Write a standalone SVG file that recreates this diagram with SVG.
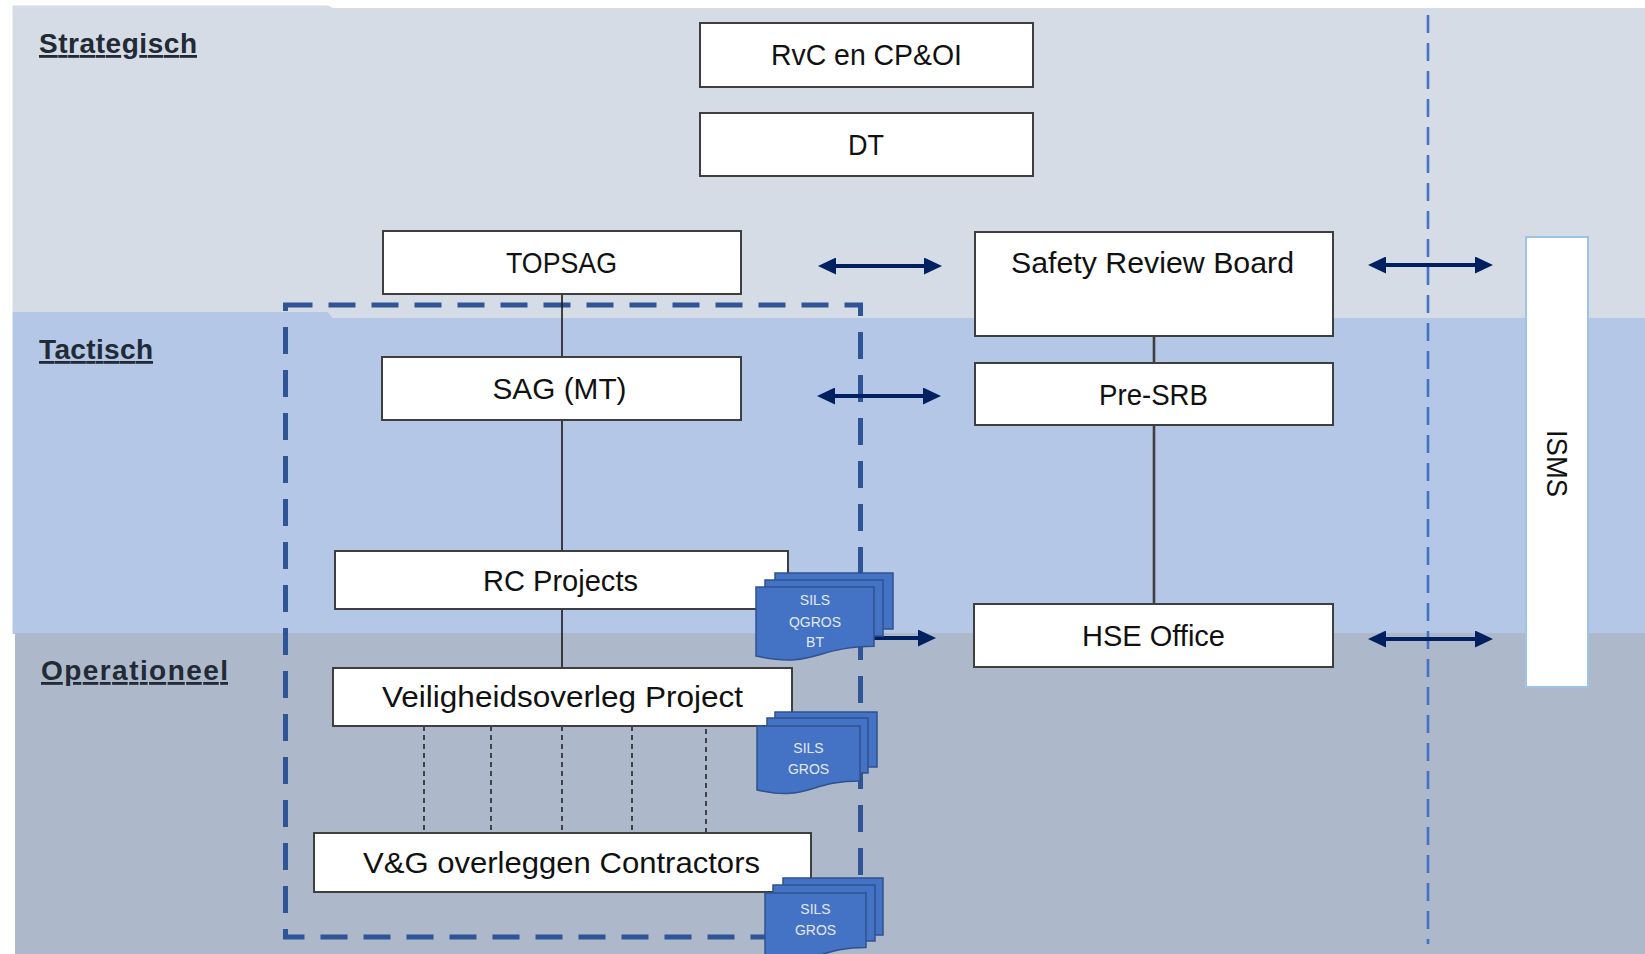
<svg xmlns="http://www.w3.org/2000/svg" width="1645" height="954" viewBox="0 0 1645 954">
<style>
.box{fill:#ffffff;stroke:#3f3f3f;stroke-width:2}
.t{font-family:"Liberation Sans",Arial,sans-serif;font-size:30px;fill:#111111;text-anchor:middle}
.lbl{font-family:"Liberation Sans",Arial,sans-serif;font-size:28px;font-weight:bold;fill:#222a35;text-decoration:underline}
.con{stroke:#1a1a1a;stroke-width:1.6;fill:none}
.con2{stroke:#404040;stroke-width:2.6;fill:none}
.dot{stroke:#1a1a1a;stroke-width:1.5;stroke-dasharray:5 4;fill:none}
.arr{stroke:#002060;stroke-width:4;fill:none}
.page{fill:#4472c4;stroke:#2f528f;stroke-width:1.5}
.dt{font-family:"Liberation Sans",Arial,sans-serif;font-size:14px;fill:#e2e9f6;text-anchor:middle}
</style>
<defs>
<marker id="ah" viewBox="0 0 18 17" refX="8" refY="8.5" markerWidth="18" markerHeight="17" markerUnits="userSpaceOnUse" orient="auto-start-reverse">
<path d="M0,0 L18,8.5 L0,17 Z" fill="#002060"/>
</marker>
</defs>
<rect width="1645" height="954" fill="#ffffff"/>
<g id="bands">
<polygon points="12.5,5.5 328,5.5 333,8 1645,8 1645,318 333,318 328,312 12.5,312" fill="#d6dce5"/>
<polygon points="12.5,312 328,312 333,318 1645,318 1645,634 12.5,634" fill="#b4c7e7"/>
<polygon points="15,633 1645,633 1645,954 15,954" fill="#adb9ca"/>
</g>
<g id="labels">
<text class="lbl" x="39" y="53" textLength="158">Strategisch</text>
<text class="lbl" x="39" y="359" textLength="114">Tactisch</text>
<text class="lbl" x="41" y="680" textLength="187">Operationeel</text>
</g>
<g id="frame">
<path d="M285.5,305 H860.5 V937 H285.5 Z" fill="none" stroke="#2f5597" stroke-width="5" stroke-dasharray="27 16"/>
<line x1="1428" y1="15" x2="1428" y2="944" stroke="#4472c4" stroke-width="2.6" stroke-dasharray="18 10"/>
</g>
<g id="connectors">
<line class="con" x1="562" y1="294" x2="562" y2="357"/>
<line class="con" x1="562" y1="420" x2="562" y2="551"/>
<line class="con" x1="562" y1="609" x2="562" y2="668"/>
<line class="con2" x1="1154" y1="336" x2="1154" y2="363"/>
<line class="con2" x1="1154" y1="425" x2="1154" y2="604"/>
<line class="dot" x1="424" y1="726" x2="424" y2="833"/>
<line class="dot" x1="491" y1="726" x2="491" y2="833"/>
<line class="dot" x1="562" y1="726" x2="562" y2="833"/>
<line class="dot" x1="632" y1="726" x2="632" y2="833"/>
<line class="dot" x1="706" y1="729" x2="706" y2="833"/>
<line class="arr" x1="828" y1="266" x2="932" y2="266" marker-start="url(#ah)" marker-end="url(#ah)"/>
<line class="arr" x1="827" y1="396" x2="931" y2="396" marker-start="url(#ah)" marker-end="url(#ah)"/>
<line class="arr" x1="870" y1="638" x2="926" y2="638" marker-end="url(#ah)"/>
<line class="arr" x1="1378" y1="265" x2="1483" y2="265" marker-start="url(#ah)" marker-end="url(#ah)"/>
<line class="arr" x1="1378" y1="639" x2="1483" y2="639" marker-start="url(#ah)" marker-end="url(#ah)"/>
</g>
<g id="rvc"><rect class="box" x="700" y="23" width="333" height="64"/><text class="t" x="866.5" y="65" textLength="191" lengthAdjust="spacingAndGlyphs">RvC en CP&amp;OI</text></g>
<g id="dt"><rect class="box" x="700" y="113" width="333" height="63"/><text class="t" x="866" y="155" textLength="36" lengthAdjust="spacingAndGlyphs">DT</text></g>
<g id="topsag"><rect class="box" x="383" y="231" width="358" height="63"/><text class="t" x="561.5" y="273" textLength="111" lengthAdjust="spacingAndGlyphs">TOPSAG</text></g>
<g id="srb"><rect class="box" x="975" y="232" width="358" height="104"/><text class="t" x="1152.5" y="273" textLength="283" lengthAdjust="spacingAndGlyphs">Safety Review Board</text></g>
<g id="sag"><rect class="box" x="382" y="357" width="359" height="63"/><text class="t" x="559.5" y="399" textLength="134" lengthAdjust="spacingAndGlyphs">SAG (MT)</text></g>
<g id="presrb"><rect class="box" x="975" y="363" width="358" height="62"/><text class="t" x="1153.5" y="405" textLength="109" lengthAdjust="spacingAndGlyphs">Pre-SRB</text></g>
<g id="rc"><rect class="box" x="335" y="551" width="453" height="58"/><text class="t" x="560.5" y="591" textLength="155" lengthAdjust="spacingAndGlyphs">RC Projects</text></g>
<g id="hse"><rect class="box" x="974" y="604" width="359" height="63"/><text class="t" x="1153.5" y="646" textLength="143" lengthAdjust="spacingAndGlyphs">HSE Office</text></g>
<g id="veilig"><rect class="box" x="333" y="668" width="459" height="58"/><text class="t" x="562.5" y="707" textLength="361" lengthAdjust="spacingAndGlyphs">Veiligheidsoverleg Project</text></g>
<g id="vg"><rect class="box" x="314" y="833" width="497" height="59"/><text class="t" x="561.5" y="873" textLength="397" lengthAdjust="spacingAndGlyphs">V&amp;G overleggen Contractors</text></g>
<g id="isms"><rect x="1526" y="237" width="62" height="450" fill="#ffffff" stroke="#9dc3e6" stroke-width="2"/><text class="t" transform="translate(1547,463.5) rotate(90)" textLength="67" lengthAdjust="spacingAndGlyphs">ISMS</text></g>
<g id="doc1">
<rect class="page" x="775" y="573" width="118" height="56"/>
<rect class="page" x="765" y="580" width="118" height="56"/>
<path class="page" d="M756,587 H874 V646.3 C815,646.3 815,668.9 756,656.1 Z"/>
<text class="dt" x="815" y="605">SILS</text>
<text class="dt" x="815" y="627">QGROS</text>
<text class="dt" x="815" y="647">BT</text>
</g>
<g id="doc2">
<rect class="page" x="775" y="712" width="102" height="55"/>
<rect class="page" x="767" y="718" width="101" height="55"/>
<path class="page" d="M757,726 H860 V780.9 C808.5,780.9 808.5,801.8 757,790 Z"/>
<text class="dt" x="808.5" y="753">SILS</text>
<text class="dt" x="808.5" y="774">GROS</text>
</g>
<g id="doc3">
<rect class="page" x="783" y="878" width="100" height="57"/>
<rect class="page" x="773" y="885" width="102" height="56"/>
<path class="page" d="M765,893 H866 V947.5 C815.5,947.5 815.5,968.3 765,956.5 Z"/>
<text class="dt" x="815.5" y="914">SILS</text>
<text class="dt" x="815.5" y="935">GROS</text>
</g>
</svg>
